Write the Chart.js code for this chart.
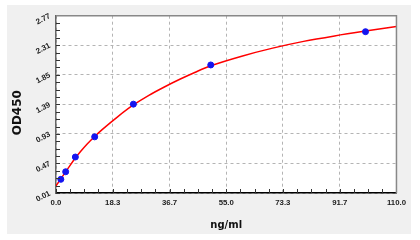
<!DOCTYPE html>
<html>
<head>
<meta charset="utf-8">
<script src="https://cdn.jsdelivr.net/npm/chart.js@4.4.1/dist/chart.umd.min.js"></script>
<style>
  html, body { margin:0; padding:0; background:#fff; }
  #panel { position:absolute; left:7px; top:5px; width:404px; height:229px; background:#f0f0f0; }
</style>
</head>
<body>
<div id="panel"><canvas id="std_curve" width="404" height="229"></canvas></div>
<script>
// standards (measured points)
const conc = [1.5625, 3.125, 6.25, 12.5, 25, 50, 100];
const od = [0.223, 0.341, 0.570, 0.884, 1.393, 2.003, 2.521];
// fitted curve
const fit_x = [0, 2, 4, 6, 8, 10, 12.5, 15, 20, 25, 30, 35, 40, 45, 50, 60, 70, 80, 90, 100, 110];
const fit_y = [0.12, 0.26, 0.40, 0.54, 0.66, 0.77, 0.89, 1.00, 1.20, 1.38, 1.53, 1.66, 1.78, 1.89, 1.99, 2.14, 2.265, 2.37, 2.455, 2.53, 2.60];
const x_ticks = [0, 18.3, 36.7, 55.0, 73.3, 91.7, 110.0];
const y_ticks = [0.01, 0.47, 0.93, 1.39, 1.85, 2.31, 2.77];

const frame_plugin = {
  id: "frame",
  beforeDraw(chart) {
    const {ctx, chartArea: a} = chart;
    ctx.save();
    ctx.fillStyle = "#fff";
    ctx.fillRect(a.left, a.top, a.right - a.left, a.bottom - a.top);
    ctx.restore();
  },
  afterDraw(chart) {
    const {ctx, chartArea: a, scales} = chart;
    ctx.save();
    // ticks drawn inside the plot, 3 minor between majors
    ctx.strokeStyle = "#333";
    ctx.lineWidth = 1;
    ctx.beginPath();
    for (let i = 0; i < x_ticks.length - 1; i++) {
      for (let k = 0; k < 4; k++) {
        const v = x_ticks[i] + (x_ticks[i + 1] - x_ticks[i]) * k / 4;
        const px = Math.round(scales.x.getPixelForValue(v)) + 0.5;
        ctx.moveTo(px, a.bottom);
        ctx.lineTo(px, a.bottom - 4);
      }
    }
    for (let i = 0; i < y_ticks.length - 1; i++) {
      for (let k = 0; k < 4; k++) {
        const v = y_ticks[i] + (y_ticks[i + 1] - y_ticks[i]) * k / 4;
        const py = Math.round(scales.y.getPixelForValue(v)) + 0.5;
        ctx.moveTo(a.left, py);
        ctx.lineTo(a.left + 4, py);
      }
    }
    ctx.stroke();
    ctx.strokeStyle = "#888";
    ctx.lineWidth = 1.5;
    ctx.beginPath();
    ctx.moveTo(a.left, a.top);
    ctx.lineTo(a.right, a.top);
    ctx.lineTo(a.right, a.bottom);
    ctx.stroke();
    ctx.restore();
  }
};

new Chart(document.getElementById("std_curve"), {
  type: "scatter",
  data: {
    datasets: [
      {
        label: "std",
        data: conc.map((c, i) => ({x: c, y: od[i]})),
        backgroundColor: "#1414f0",
        borderColor: "#1414f0",
        pointRadius: 3,
        pointHoverRadius: 3,
        order: 0,
      },
      {
        label: "fit",
        data: fit_x.map((c, i) => ({x: c, y: fit_y[i]})),
        showLine: true,
        borderColor: "#ff0000",
        borderWidth: 1.5,
        pointRadius: 0,
        cubicInterpolationMode: "monotone",
        order: 1,
      },
    ]
  },
  options: {
    responsive: false,
    animation: false,
    devicePixelRatio: 1,
    layout: { padding: { left: 0, right: 11, top: 7, bottom: 0 } },
    plugins: { legend: { display: false }, tooltip: { enabled: false } },
    scales: {
      x: {
        type: "linear",
        min: 0,
        max: 110,
        afterBuildTicks: (s) => { s.ticks = x_ticks.map(v => ({value: v})); },
        afterFit: (s) => { s.height = 41; },
        ticks: {
          callback: (v) => Number(v).toFixed(1),
          padding: 5,
          color: "#222",
          font: { family: "Liberation Sans", weight: "bold", size: 7.8 },
          maxRotation: 0,
        },
        grid: { color: "#b4b4b4", drawTicks: false, lineWidth: 1 },
        border: { color: "#000", width: 1.5, dash: [3, 3] },
        title: {
          display: true,
          text: "ng/ml",
          color: "#111",
          font: { family: "DejaVu Sans", weight: "bold", size: 10 },
          padding: { top: 0, bottom: 3 },
        },
      },
      y: {
        type: "linear",
        min: 0.01,
        max: 2.77,
        afterBuildTicks: (s) => { s.ticks = y_ticks.map(v => ({value: v})); },
        afterFit: (s) => { s.width = 49; },
        ticks: {
          callback: (v) => Number(v).toFixed(2),
          padding: 6,
          color: "#222",
          minRotation: 27,
          maxRotation: 27,
          font: { family: "Liberation Sans", weight: "bold", size: 7.8 },
        },
        grid: { color: "#b4b4b4", drawTicks: false, lineWidth: 1 },
        border: { color: "#666", width: 1.5, dash: [3, 3] },
        title: {
          display: true,
          text: "OD450    ",
          color: "#111",
          font: { family: "DejaVu Sans", weight: "bold", size: 12 },
          padding: { top: 4, bottom: 0 },
        },
      },
    },
  },
  plugins: [frame_plugin],
});
</script>
</body>
</html>
